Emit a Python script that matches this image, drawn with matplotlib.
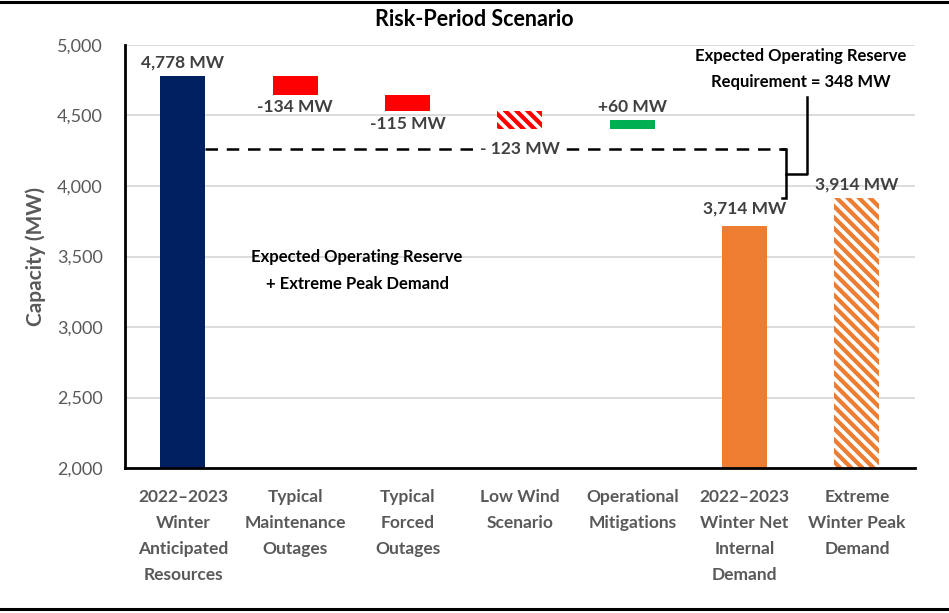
import matplotlib
matplotlib.use("Agg")
import matplotlib.pyplot as plt
from matplotlib.lines import Line2D
import numpy as np

categories = ["2022\u20132023\nWinter\nAnticipated\nResources", "Typical\nMaintenance\nOutages",
              "Typical\nForced\nOutages", "Low Wind\nScenario", "Operational\nMitigations",
              "2022\u20132023\nWinter Net\nInternal\nDemand", "Extreme\nWinter Peak\nDemand"]
resources = 4778
changes = [-134, -115, -123, 60]
net_internal_demand = 3714
extreme_peak = 3914
reserve = 348
y_ticks = [2000, 2500, 3000, 3500, 4000, 4500, 5000]

plt.rcParams['font.family'] = ['Lato', 'DejaVu Sans']
plt.rcParams['hatch.linewidth'] = 2.6

fig = plt.figure(figsize=(9.49, 6.13), dpi=100)
ax = fig.add_axes([0.1317, 0.2365, 0.8323, 0.6901])

gray = '#595959'
navy = '#002060'
red = '#FF0000'
green = '#00B050'
orange = '#ED7D31'
w = 0.4

x = np.arange(len(categories))

# first bar
ax.bar(x[0], resources - 2000, bottom=2000, width=w, color=navy, zorder=3)
ax.text(x[0], resources + 40, f"{resources:,} MW", ha='center', va='bottom',
        fontsize=12.5, fontweight='bold', color='#404040')

# waterfall
level = resources
styles = [dict(color=red), dict(color=red),
          dict(facecolor=red, edgecolor='white', hatch='\\\\\\', linewidth=0),
          dict(color=green)]
for i, (c, st) in enumerate(zip(changes, styles)):
    xi = x[i + 1]
    new = level + c
    ax.bar(xi, abs(c), bottom=min(level, new), width=w, zorder=3, **st)
    level = new

# change labels
lab_kw = dict(ha='center', fontsize=12.5, fontweight='bold', color='#404040')
ax.text(x[1], resources + changes[0] - 30, f"{changes[0]} MW", va='top', **lab_kw)
ax.text(x[2], resources + sum(changes[:2]) - 30, f"{changes[1]} MW", va='top', **lab_kw)
ax.text(x[3], extreme_peak + reserve, f"- {abs(changes[2])} MW", va='center', zorder=5,
        bbox=dict(facecolor='white', edgecolor='none', pad=1), **lab_kw)
ax.text(x[4], level + 40, f"+{changes[3]} MW", va='bottom', **lab_kw)

# demand bars
ax.bar(x[5], net_internal_demand - 2000, bottom=2000, width=w, color=orange, zorder=3)
ax.text(x[5], net_internal_demand + 70, f"{net_internal_demand:,} MW", va='bottom', **lab_kw)
ax.bar(x[6], extreme_peak - 2000, bottom=2000, width=w, facecolor=orange, edgecolor='white',
       hatch='\\\\\\', linewidth=0, zorder=3)
ax.text(x[6], extreme_peak + 40, f"{extreme_peak:,} MW", va='bottom', **lab_kw)

# dashed line at reserve + peak
top = extreme_peak + reserve
bx = 5.37
ax.plot([x[0] + w / 2, bx], [top, top], ls=(0, (5, 3.5)), color='black', lw=1.8, zorder=4)

# bracket
ax.plot([bx - 0.04, bx, bx, bx - 0.04], [top, top, extreme_peak, extreme_peak],
        color='black', lw=1.8, zorder=4, solid_joinstyle='miter')
mid = (top + extreme_peak) / 2
ax.plot([bx, 5.555, 5.555], [mid, mid, 4630], color='black', lw=1.8, zorder=4)
ax.text(5.50, 4680, "Expected Operating Reserve\nRequirement = 348 MW", ha='center', va='bottom',
        fontsize=12, fontweight='bold', color='black', linespacing=1.8)

ax.text(1.55, 3400, "Expected Operating Reserve\n+ Extreme Peak Demand", ha='center', va='center',
        fontsize=12, fontweight='bold', color='black', linespacing=1.8)

ax.set_xlim(-0.516, 6.516)
ax.set_ylim(2000, 5000)
ax.set_yticks(y_ticks)
ax.set_yticklabels([f"{v:,}" for v in y_ticks], fontsize=13, color=gray)
ax.set_xticks(x)
ax.set_xticklabels(categories, fontsize=12.5, color=gray, fontweight='bold', linespacing=1.78)
ax.tick_params(axis='both', length=0)
ax.tick_params(axis='y', pad=16)
ax.tick_params(axis='x', pad=15)
ax.set_ylabel("Capacity (MW)", fontsize=15, fontweight='bold', color=gray, labelpad=8)
ax.grid(axis='y', color='#D9D9D9', lw=1.3, zorder=0)
ax.set_axisbelow(True)
for s in ['top', 'right']:
    ax.spines[s].set_visible(False)
for s in ['left', 'bottom']:
    ax.spines[s].set_color('black')
    ax.spines[s].set_linewidth(2)
    ax.spines[s].set_zorder(6)

fig.text(0.5, 0.968, "Risk-Period Scenario", ha='center', va='center', fontsize=15.5,
         fontweight='bold', color='black')
fig.add_artist(Line2D([0, 1], [0.9965, 0.9965], color='black', lw=2.2, transform=fig.transFigure))
fig.add_artist(Line2D([0, 1], [0.0065, 0.0065], color='black', lw=2.2, transform=fig.transFigure))

fig.savefig("out.png", dpi=100)
